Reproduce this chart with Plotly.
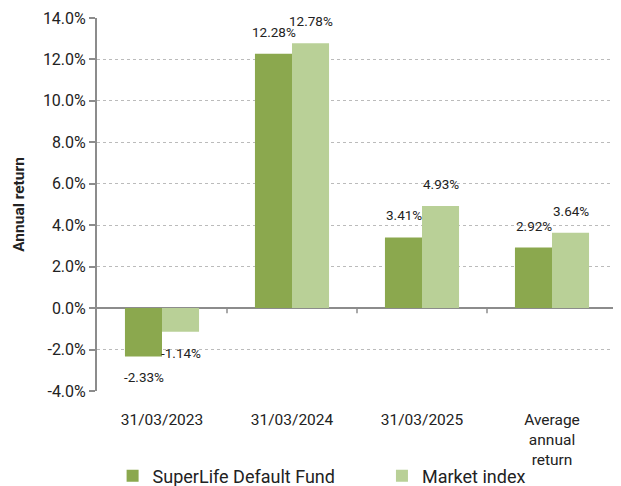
import plotly.graph_objects as go

categories = ["31/03/2023", "31/03/2024", "31/03/2025", "Average<br>annual<br>return"]
fund = [-2.33, 12.28, 3.41, 2.92]
market = [-1.14, 12.78, 4.93, 3.64]
series_names = ["SuperLife Default Fund", "Market index"]
colors = ["#8BA84E", "#B9D097"]
legend_ids = ["legend", "legend2"]
y_ticks = [-4, -2, 0, 2, 4, 6, 8, 10, 12, 14]
y_tick_labels = [f"{v:.1f}%" for v in y_ticks]

fig = go.Figure()
for name, vals, col, lg in zip(series_names, [fund, market], colors, legend_ids):
    fig.add_trace(go.Bar(x=categories, y=vals, name=name, legend=lg,
                         marker=dict(color=col, line=dict(width=0))))

annotations = []
for vals, xs in [(fund, -18.5), (market, 18.5)]:
    for c, v in zip(categories, vals):
        annotations.append(dict(x=c, y=v, text=f"{v:.2f}%", showarrow=False, xshift=xs,
                                yshift=22 if v >= 0 else -21, yanchor="middle",
                                font=dict(size=13.5, color="#222")))

shapes = []
for i in range(len(categories) - 1):
    shapes.append(dict(type="line", xref="x", yref="y", x0=i + 0.5, x1=i + 0.5, y0=0, y1=-0.25,
                       line=dict(color="#8c8c8c", width=1.5)))

legend_style = dict(orientation="h", xanchor="left", yanchor="middle", y=-0.228,
                    font=dict(size=18, color="#222"), itemwidth=30, bgcolor="rgba(0,0,0,0)")

fig.update_layout(
    width=613, height=478,
    margin=dict(l=89, r=4, t=10, b=95, autoexpand=False),
    paper_bgcolor="white", plot_bgcolor="white",
    font=dict(family="Roboto", color="#222"),
    barmode="group", bargap=0.43, bargroupgap=0,
    showlegend=True,
    legend=dict(x=0.03, **legend_style),
    legend2=dict(x=0.548, **legend_style),
    annotations=annotations,
    shapes=shapes,
)
fig.update_yaxes(range=[-4, 14], tickvals=y_ticks, ticktext=y_tick_labels,
                 showgrid=True, gridcolor="#bbbbbb", griddash="dot", gridwidth=1,
                 showline=True, linecolor="#8c8c8c", linewidth=2,
                 ticks="outside", ticklen=6, tickcolor="#8c8c8c", tickwidth=1.5,
                 zeroline=True, zerolinecolor="#8c8c8c", zerolinewidth=2,
                 tickfont=dict(size=16, color="#222"),
                 title=dict(text="<b>Annual return</b>", font=dict(size=15.5, color="#222"), standoff=14))
fig.update_xaxes(showline=False, showgrid=False, ticks="", tickfont=dict(size=15.5, color="#222"),
                 ticklabelstandoff=17)

fig.write_html("out.html")
